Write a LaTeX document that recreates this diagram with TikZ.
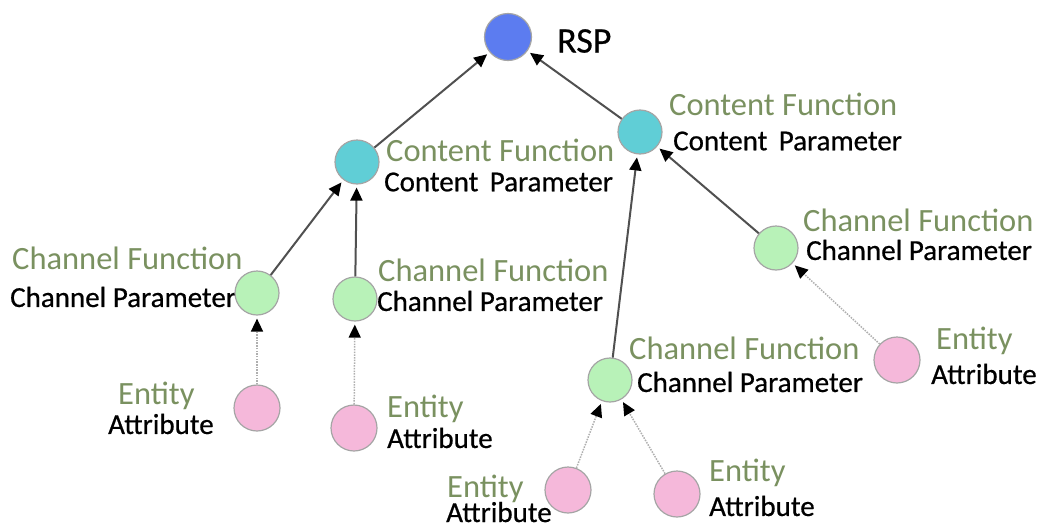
\documentclass[tikz,border=0pt]{standalone}
\usepackage{fontspec}
\setmainfont{Carlito}
\newfontfamily\paramfont[FakeBold=0.6]{Carlito}
\usetikzlibrary{arrows.meta}
\definecolor{fnGreen}{RGB}{122,145,96}
\definecolor{rimGray}{RGB}{165,165,165}
\definecolor{ballBlue}{RGB}{92,124,240}
\definecolor{ballTeal}{RGB}{96,206,214}
\definecolor{ballGreen}{RGB}{184,242,184}
\definecolor{ballPink}{RGB}{245,184,218}
\definecolor{linkGray}{RGB}{80,80,80}
\definecolor{dotGray}{RGB}{175,175,175}
\tikzset{
  ball/.style={circle, draw=rimGray, line width=1.2pt, inner sep=0pt},
  rsp/.style={ball, minimum size=47pt, fill=ballBlue},
  content/.style={ball, minimum size=44pt, fill=ballTeal},
  channel/.style={ball, minimum size=44pt, fill=ballGreen},
  entity/.style={ball, minimum size=46pt, fill=ballPink},
  fname/.style={anchor=west, inner sep=0pt, text=fnGreen, font=\fontsize{32.5}{32.5}\selectfont},
  pname/.style={anchor=west, inner sep=0pt, text=black, font=\paramfont\fontsize{29}{29}\selectfont},
  link/.style={draw=linkGray, line width=2pt, shorten >=3pt,
    -{Triangle[length=13pt,width=12pt,black]}},
  feed/.style={draw=dotGray, line width=1.5pt, dash pattern=on 1.5pt off 1.2pt, shorten >=3pt,
    -{Triangle[length=13pt,width=12pt,black]}}
}
\begin{document}
\begin{tikzpicture}[x=1pt,y=-1pt]
\useasboundingbox (0,0) rectangle (1038,525);

% labels
\node[pname, font=\paramfont\fontsize{36}{36}\selectfont] (tRSP) at (557,41) {RSP};
\node[fname] (tcfL) at (386,150) {Content Function};
\node[pname] (tcpL) at (384,182) {Content\, Parameter};
\node[fname] (tcfR) at (669,104) {Content Function};
\node[pname] (tcpR) at (673,141) {Content\, Parameter};
\node[fname] (thfA) at (12,258) {Channel Function};
\node[pname] (thpA) at (10,297) {Channel Parameter};
\node[fname] (thfB) at (378,270) {Channel Function};
\node[pname] (thpB) at (377,301) {Channel Parameter};
\node[fname] (thfC) at (629,348) {Channel Function};
\node[pname] (thpC) at (637,382) {Channel Parameter};
\node[fname] (thfD) at (803,220) {Channel Function};
\node[pname] (thpD) at (806,250) {Channel Parameter};
\node[fname] (teA) at (118,396) {Entity};
\node[pname] (taA) at (108,424) {Attribute};
\node[fname] (teB) at (387,409) {Entity};
\node[pname] (taB) at (387,438) {Attribute};
\node[fname, text depth=0pt, anchor=base west] (teC) at (447,497) {Entity};
\node[pname, text depth=0pt, anchor=base west] (taC) at (446,522) {Attribute};
\node[fname] (teD) at (709,473) {Entity};
\node[pname] (taD) at (709,506) {Attribute};
\node[fname] (teE) at (936,341) {Entity};
\node[pname] (taE) at (931,374) {Attribute};

% nodes
\node[rsp] (root) at (508,37) {};
\node[content] (cL) at (357,162) {};
\node[content] (cR) at (640,132) {};
\node[channel] (hA) at (257,293) {};
\node[channel] (hB) at (355,299) {};
\node[channel] (hC) at (610,380) {};
\node[channel] (hD) at (776,248) {};
\node[entity] (eA) at (257,408) {};
\node[entity] (eB) at (354,428) {};
\node[entity] (eC) at (568,490) {};
\node[entity] (eD) at (677,494) {};
\node[entity] (eE) at (897,360) {};

% connectors
\draw[link] (cL) -- (root);
\draw[link] (cR) -- (root);
\draw[link] (hA) -- (cL);
\draw[link] (hB) -- (cL);
\draw[link] (hC) -- (cR);
\draw[link] (hD) -- (cR);
\draw[feed] (eA) -- (hA);
\draw[feed] (eB) -- (hB);
\draw[feed] (eC) -- (hC);
\draw[feed] (eD) -- (hC);
\draw[feed] (eE) -- (hD);
\end{tikzpicture}
\end{document}
